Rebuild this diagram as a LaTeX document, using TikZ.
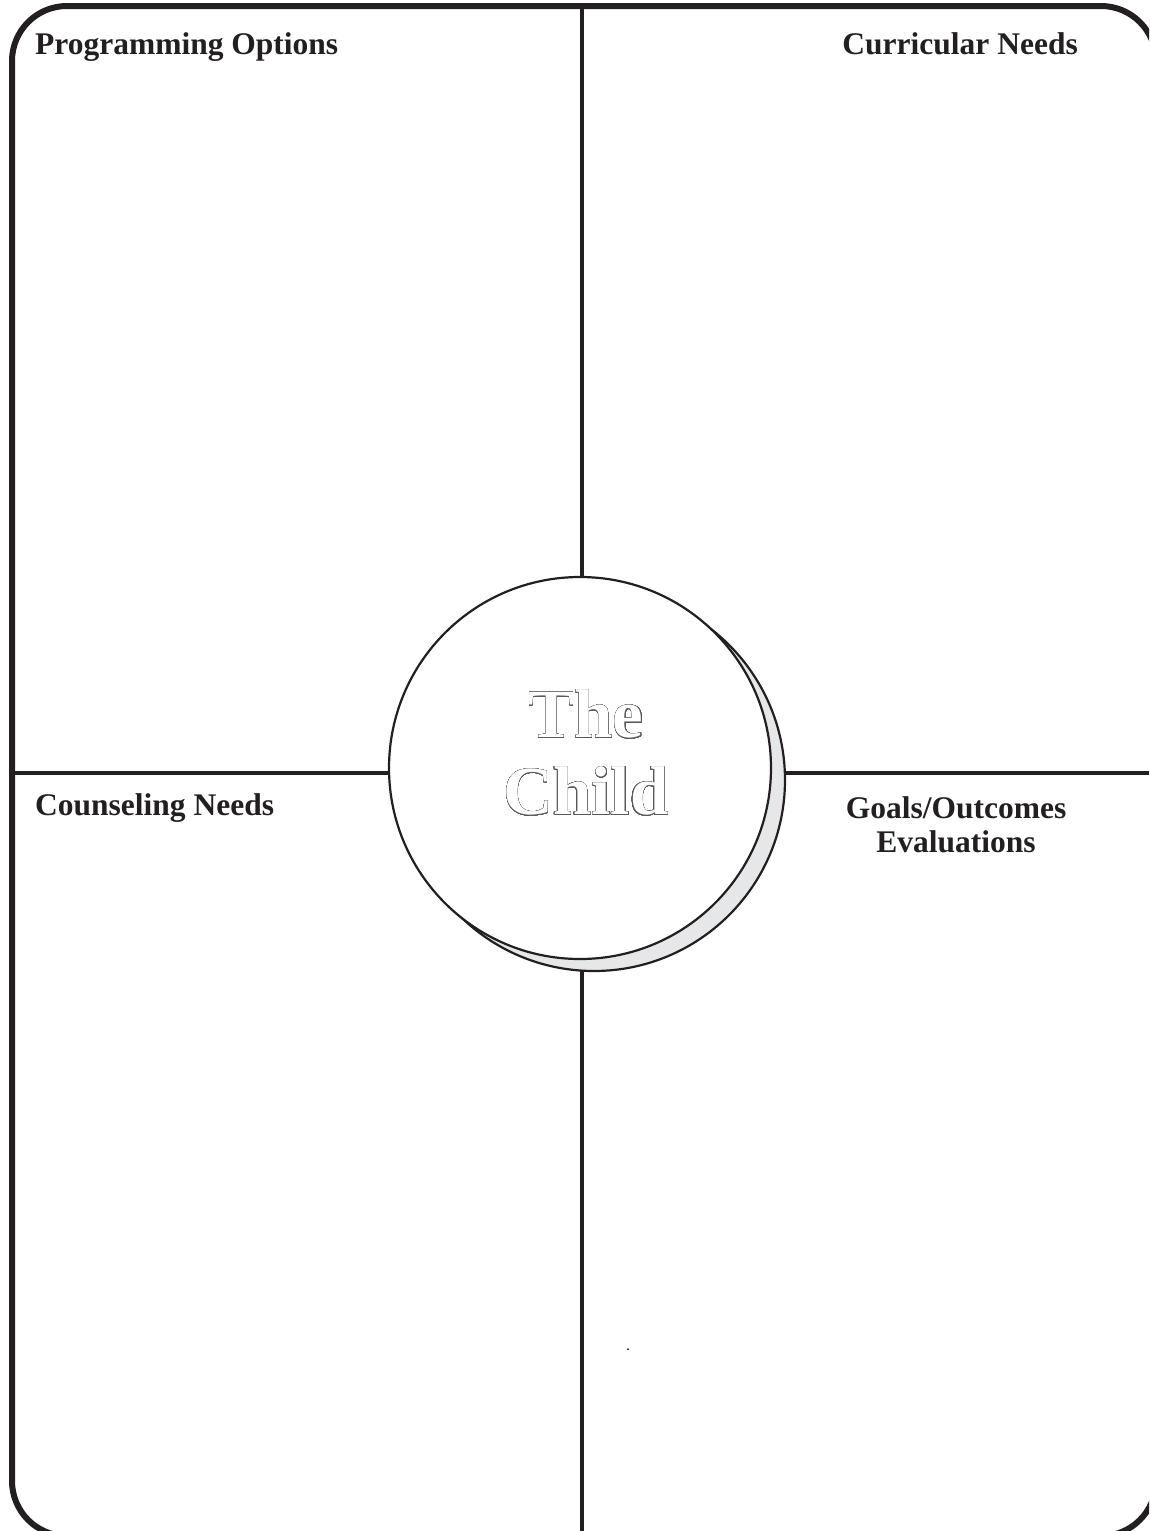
\documentclass[tikz,border=0pt]{standalone}
\usepackage{fontspec}
\setmainfont{Liberation Serif}
\usepackage[copies]{contour}
\contourlength{0.45pt}
\contournumber{32}
\definecolor{ink}{HTML}{231F20}
\definecolor{shade}{HTML}{E6E7E8}
\definecolor{outl}{HTML}{58595B}
\begin{document}
\begin{tikzpicture}[x=1pt,y=-1pt,
  frame/.style={line width=6pt, draw=ink, rounded corners=55pt},
  divider/.style={line width=4.5pt, draw=ink},
  disc/.style={circle, draw=ink, line width=2.2pt, minimum size=382pt, inner sep=0pt},
  quadlabel/.style={font=\bfseries\fontsize{31.5}{34}\selectfont, text=ink, inner sep=0pt}]
\useasboundingbox (0,0) rectangle (1149,1531);
\begin{scope}
\clip (0,0) rectangle (1149,1531);
\draw[frame] (12,6) rectangle (1156,1536);
\end{scope}
\coordinate (top) at (582,6);
\coordinate (bottom) at (582,1531);
\coordinate (left) at (12,773);
\coordinate (right) at (1149,773);
\draw[divider] (top) -- (bottom);
\draw[divider] (left) -- (right);
\node[disc, fill=shade] (shadow) at (594,780) {};
\node[disc, fill=white] (child) at (580,768) {};
\node[font=\bfseries\fontsize{69}{77}\selectfont, align=center, inner sep=0pt] (childtext) at (586,753)
  {{\color{white}\contour{outl}{The}}\\{\color{white}\contour{outl}{Child}}};
\node[quadlabel, anchor=base west] (prog) at (35,54) {Programming Options};
\node[quadlabel, anchor=base east] (curr) at (1078,54) {Curricular Needs};
\node[quadlabel, anchor=base west] (couns) at (35,815) {Counseling Needs};
\node[quadlabel, anchor=north, align=center] (goals) at (956,796) {Goals/Outcomes\\Evaluations};
\node[font=\fontsize{16}{16}\selectfont, text=ink, inner sep=0pt, anchor=base] (dot) at (628,1350) {.};
\end{tikzpicture}
\end{document}
